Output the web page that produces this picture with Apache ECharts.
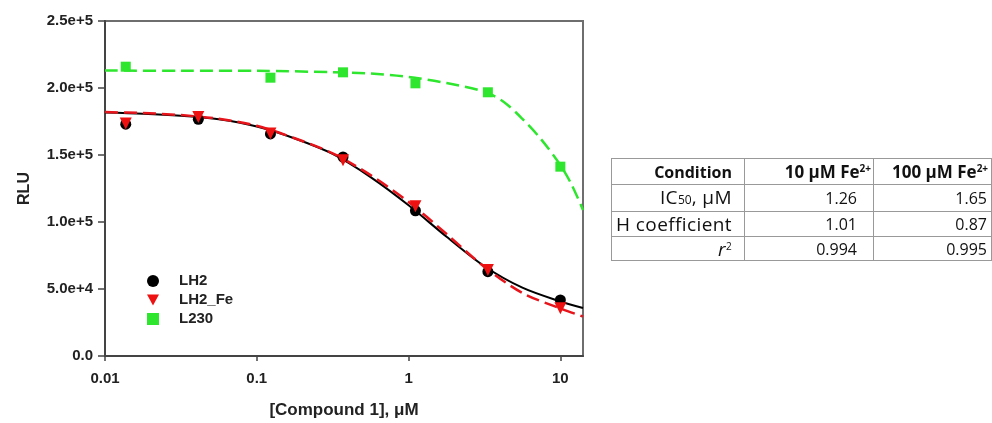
<!DOCTYPE html>
<html>
<head>
<meta charset="utf-8">
<script src="https://cdn.jsdelivr.net/npm/echarts@6/dist/echarts.min.js"></script>
<style>
  html, body { margin: 0; padding: 0; background: #fff; }
  #wrap { position: relative; width: 992px; height: 423px; overflow: hidden; }
  #chart { position: absolute; left: 0; top: 0; width: 992px; height: 423px; }
  #params {
    position: absolute; left: 611px; top: 158px; width: 380px;
    border-collapse: collapse; table-layout: fixed;
    font-family: "Open Sans", "Lato", sans-serif; font-size: 19px; color: #111;
    border: 1px solid #555;
  }
  #params td, #params th {
    border: 1px solid #999; padding: 0 12px 0 0; text-align: right;
    white-space: nowrap; line-height: 20px; box-sizing: border-box; overflow: visible;
  }
  #params td.name { letter-spacing: 0.4px; }
  #params th { font-weight: bold; font-size: 16px; }
  #params th.num { padding-right: 2px; font-size: 17px; }
  #params th.last { padding-right: 0; text-align: left; padding-left: 18px; }
  #params td.num { padding-right: 16px; font-size: 16px; }
  #params td.last { padding-right: 4px; }
  #params sup { font-size: 10px; vertical-align: 6px; line-height: 0; }
  #params .sub { font-size: 12px; letter-spacing: 0; }
</style>
</head>
<body>
<div id="wrap">
  <div id="chart"></div>
  <table id="params"></table>
</div>
<script>
// Measured concentrations (μM) and luminescence readings
const conc = [0.0137, 0.0412, 0.123, 0.370, 1.11, 3.33, 10];
const lh2 = [173000, 176600, 165700, 148500, 108400, 62900, 41800];
const lh2Fe = [173500, 178300, 166000, 146000, 111800, 64200, 35600];
const l230 = [215900, null, 207700, 211700, 203500, 196800, 141300];

// Fitted dose-response curves, sampled along the concentration axis
const fitConc = [0.01, 0.0178, 0.0316, 0.0562, 0.1, 0.178, 0.316, 0.562, 1, 1.78, 3.16, 5.62, 10, 14.1];
const lh2Fit = [181700, 180800, 179200, 176600, 171200, 162300, 150800, 133500, 112500, 89000, 67000, 51000, 40700, 35800];
const lh2FeFit = [182000, 181300, 179800, 177000, 171800, 162500, 151300, 135000, 115000, 91000, 66500, 47000, 35500, 29500];
const l230FitConc = [0.01, 0.0316, 0.1, 0.316, 0.562, 1, 1.78, 3.16, 4.22, 5.62, 7.5, 10, 11.9, 14.1];
const l230Fit = [213000, 212900, 212800, 211800, 210800, 208300, 203700, 197200, 189800, 177000, 161500, 142500, 127600, 109000];

// Axis ticks
const xTickValues = [0.01, 0.1, 1, 10];
const xTickLabels = ['0.01', '0.1', '1', '10'];
const xMin = 0.01, xMax = 14.1;
const yTickValues = [0, 50000, 100000, 150000, 200000, 250000];
const yTickLabels = ['0.0', '5.0e+4', '1.0e+5', '1.5e+5', '2.0e+5', '2.5e+5'];

// Fit-parameter table
const tableHeader = ['Condition', '10 μM Fe<sup>2+</sup>', '100 μM Fe<sup>2+</sup>'];
const tableRowNames = ['IC<span class="sub">50</span>, μM', 'H coefficient', '<i>r</i><sup>2</sup>'];
const col10uM = ['1.26', '1.01', '0.994'];
const col100uM = ['1.65', '0.87', '0.995'];

// The concentration axis is logarithmic: positions are log10(concentration)
const lg = Math.log10;
function pairs(xs, ys) {
  const out = [];
  xs.forEach((x, i) => { if (ys[i] != null) out.push([lg(x), ys[i]]); });
  return out;
}

const FONT = '"Liberation Sans", Arial, sans-serif';
const chart = echarts.init(document.getElementById('chart'), null, { renderer: 'canvas' });

const fitLine = (name, ys, xs, color, dashed, width, z) => ({
  name, type: 'line', data: pairs(xs, ys), smooth: 0.3, showSymbol: false, symbol: 'none',
  lineStyle: { color, width, type: dashed ? [13, 6] : 'solid' }, z, silent: true
});

// Downward-pointing triangle for the legend entry
const TRI_DOWN = 'path://M0,0 L10,0 L5,9 Z';

chart.setOption({
  animation: false,
  backgroundColor: '#fff',
  grid: { left: 105, right: 409, top: 21, bottom: 67, show: true, borderColor: '#6e6e6e', borderWidth: 2,
          containLabel: false, outerBoundsMode: 'none' },
  legend: {
    data: [
      { name: 'LH2', icon: 'circle' },
      { name: 'LH2_Fe', icon: TRI_DOWN },
      { name: 'L230', icon: 'rect' }
    ],
    orient: 'vertical', left: 142, top: 268,
    itemWidth: 12, itemHeight: 12, itemGap: 3,
    textStyle: { fontFamily: FONT, fontWeight: 'bold', fontSize: 15, lineHeight: 16, color: '#222',
                 padding: [0, 0, 0, 15] },
    selectedMode: false
  },
  xAxis: {
    type: 'value', min: lg(xMin), max: lg(xMax),
    name: '[Compound 1], μM', nameLocation: 'middle', nameGap: 46,
    nameTextStyle: { fontFamily: FONT, fontWeight: 'bold', fontSize: 17, color: '#222' },
    axisLine: { onZero: false, lineStyle: { color: '#444', width: 2 } },
    axisTick: { customValues: xTickValues.map(lg), length: 5, lineStyle: { color: '#444', width: 1.5 } },
    axisLabel: {
      customValues: xTickValues.map(lg), margin: 15,
      fontFamily: FONT, fontWeight: 'bold', fontSize: 15, color: '#222',
      formatter: v => xTickLabels[xTickValues.findIndex(t => Math.abs(lg(t) - v) < 1e-6)]
    },
    splitLine: { show: false }
  },
  yAxis: {
    type: 'value', min: 0, max: 250000, interval: 50000,
    name: 'RLU', nameLocation: 'middle', nameGap: 72, nameRotate: 90,
    nameTextStyle: { fontFamily: FONT, fontWeight: 'bold', fontSize: 16, color: '#222' },
    axisLine: { show: true, onZero: false, lineStyle: { color: '#444', width: 2 } },
    axisTick: { show: true, length: 7, lineStyle: { color: '#444', width: 1.5 } },
    axisLabel: {
      margin: 12, fontFamily: FONT, fontWeight: 'bold', fontSize: 15, color: '#222',
      formatter: v => yTickLabels[yTickValues.indexOf(v)]
    },
    splitLine: { show: false }
  },
  series: [
    fitLine('LH2 fit', lh2Fit, fitConc, '#000000', false, 2, 2),
    fitLine('LH2_Fe fit', lh2FeFit, fitConc, '#e8141b', true, 2.5, 3),
    fitLine('L230 fit', l230Fit, l230FitConc, '#2ee62e', true, 2.5, 3),
    { name: 'LH2', type: 'scatter', data: pairs(conc, lh2), symbol: 'circle', symbolSize: 11,
      itemStyle: { color: '#000000', opacity: 1 }, z: 4 },
    { name: 'LH2_Fe', type: 'scatter', data: pairs(conc, lh2Fe), symbol: 'triangle', symbolRotate: 180, symbolSize: 12,
      itemStyle: { color: '#ee1111', opacity: 1 }, z: 5 },
    { name: 'L230', type: 'scatter', data: pairs(conc, l230), symbol: 'rect', symbolSize: 10,
      itemStyle: { color: '#2ee62e', opacity: 1 }, z: 5 }
  ]
});

// Build the parameter table
const rowHeights = [26, 27, 25, 24];
const colWidths = [133, 129, 118];
const table = document.getElementById('params');
const cg = document.createElement('colgroup');
colWidths.forEach(w => { const c = document.createElement('col'); c.style.width = w + 'px'; cg.appendChild(c); });
table.appendChild(cg);
const hr = document.createElement('tr');
hr.style.height = rowHeights[0] + 'px';
tableHeader.forEach((h, j) => {
  const th = document.createElement('th');
  th.innerHTML = h;
  if (j > 0) th.className = j === 2 ? 'num last' : 'num';
  hr.appendChild(th);
});
table.appendChild(hr);
tableRowNames.forEach((name, i) => {
  const tr = document.createElement('tr');
  tr.style.height = rowHeights[i + 1] + 'px';
  [name, col10uM[i], col100uM[i]].forEach((txt, j) => {
    const td = document.createElement('td');
    td.innerHTML = txt;
    td.className = j === 0 ? 'name' : (j === 2 ? 'num last' : 'num');
    tr.appendChild(td);
  });
  table.appendChild(tr);
});
</script>
</body>
</html>
